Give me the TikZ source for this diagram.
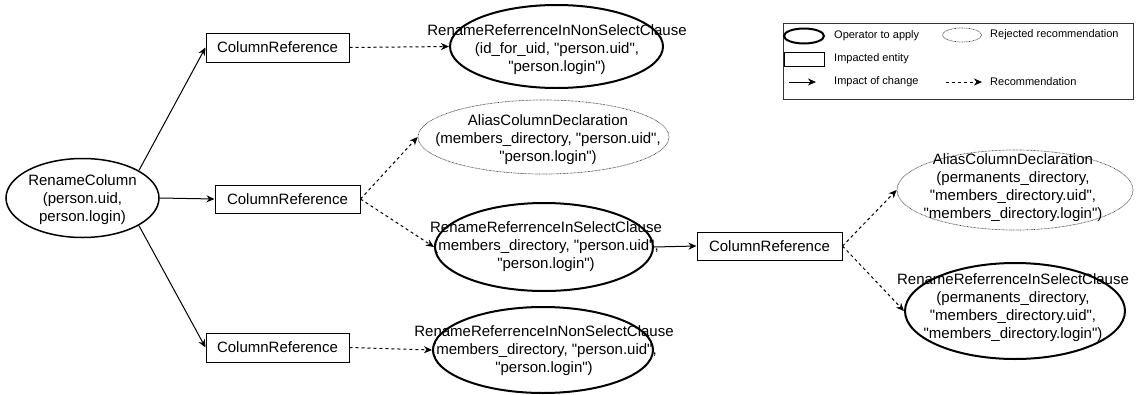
\documentclass[tikz,border=0pt]{standalone}
\usepackage{fontspec}
\setmainfont{Liberation Sans}[Ligatures=TeXOff]
\usetikzlibrary{shapes.geometric,arrows.meta}
\newcommand\mainsz{\fontsize{15}{18}\selectfont}
\newcommand\legsz{\fontsize{11}{13}\selectfont}
\begin{document}
\begin{tikzpicture}[x=1pt,y=-1pt,
	entity/.style={draw, line width=1pt, inner sep=0pt, minimum width=143pt, minimum height=29pt, font=\mainsz},
	operator/.style={draw, ellipse, line width=2pt, inner sep=0pt},
	rejected/.style={draw, ellipse, black!75, line width=0.7pt, dash pattern=on 0.7pt off 0.7pt, inner sep=0pt},
	optext/.style={align=center, font=\mainsz, inner sep=0pt},
	legtext/.style={anchor=west, font=\legsz, inner sep=0pt},
	impact/.style={line width=1pt, -{Stealth[length=8pt,width=7pt,inset=2.5pt]}},
	recommend/.style={impact, dash pattern=on 3pt off 3pt}]

	\useasboundingbox (0,0) rectangle (1136,394);

	% operator that starts the chain
	\node[operator, line width=1.5pt, minimum width=153pt, minimum height=79pt] (rc) at (82.5,198) {};
	\node[optext] (rc-txt) at (82.5,200) {RenameColumn\\(person.uid,\\person.login)};

	% impacted entities
	\node[entity] (b1) at (277.5,47.5) {ColumnReference};
	\node[entity, minimum width=145pt, minimum height=28pt] (b2) at (287.5,199) {ColumnReference};
	\node[entity] (b3) at (277.5,347.5) {ColumnReference};
	\node[entity, minimum width=145pt, minimum height=28pt] (b4) at (769.5,246) {ColumnReference};

	% recommendations
	\node[operator, minimum width=213pt, minimum height=83pt] (e1) at (556.5,46.5) {};
	\node[optext] (e1-txt) at (557,50) {RenameReferrenceInNonSelectClause\\(id\_for\_uid, "person.uid",\\"person.login")};

	\node[rejected, minimum width=251pt, minimum height=74pt] (e2) at (543.5,137) {};
	\node[optext] (e2-txt) at (548,140) {AliasColumnDeclaration\\(members\_directory, "person.uid",\\"person.login")};

	\node[operator, minimum width=218pt, minimum height=88pt] (e3) at (544,247) {};
	\node[optext] (e3-txt) at (546,247) {RenameReferrenceInSelectClause\\(members\_directory, "person.uid",\\"person.login")};

	\node[operator, minimum width=220pt, minimum height=86pt] (e4) at (543,350) {};
	\node[optext] (e4-txt) at (544,351) {RenameReferrenceInNonSelectClause\\(members\_directory, "person.uid",\\"person.login")};

	\node[rejected, minimum width=236pt, minimum height=80pt] (e5) at (1015,190) {};
	\node[optext] (e5-txt) at (1013,188) {AliasColumnDeclaration\\(permanents\_directory,\\"members\_directory.uid",\\"members\_directory.login")};

	\node[operator, minimum width=220pt, minimum height=96pt] (e6) at (1015,311) {};
	\node[optext] (e6-txt) at (1013,308) {RenameReferrenceInSelectClause\\(permanents\_directory,\\"members\_directory.uid",\\"members\_directory.login")};

	% impact of change
	\draw[impact] (rc.26) -- (b1.west);
	\draw[impact] (rc.east) -- (b2.west);
	\draw[impact] (rc.-26) -- (b3.west);
	\draw[impact] (e3.east) -- (b4.west);

	% recommendation
	\draw[recommend] (b1.east) -- (e1.west);
	\draw[recommend] (b2.east) -- (e2.west);
	\draw[recommend] (b2.east) -- (e3.west);
	\draw[recommend] (b3.east) -- (e4.west);
	\draw[recommend] (b4.east) -- (e5.west);
	\draw[recommend] (b4.east) -- (e6.west);

	% legend
	\node[draw, black!80, line width=1pt, minimum width=350pt, minimum height=76pt, inner sep=0pt] (legend) at (958,61) {};
	\node[operator, minimum width=40pt, minimum height=15pt] (leg-op) at (804,36) {};
	\node[legtext] (leg-op-txt) at (834,36) {Operator to apply};
	\node[rejected, minimum width=39pt, minimum height=14pt] (leg-rej) at (962,35) {};
	\node[legtext] (leg-rej-txt) at (990,35) {Rejected recommendation};
	\node[draw, line width=1pt, minimum width=40pt, minimum height=14pt, inner sep=0pt] (leg-ent) at (804,59) {};
	\node[legtext] (leg-ent-txt) at (834,59) {Impacted entity};
	\coordinate (leg-imp-a) at (789,82);
	\coordinate (leg-imp-b) at (816,82);
	\draw[impact] (leg-imp-a) -- (leg-imp-b);
	\node[legtext] (leg-imp-txt) at (834,82) {Impact of change};
	\coordinate (leg-rec-a) at (946,82);
	\coordinate (leg-rec-b) at (982,82);
	\draw[recommend] (leg-rec-a) -- (leg-rec-b);
	\node[legtext] (leg-rec-txt) at (990,82) {Recommendation};
\end{tikzpicture}
\end{document}
